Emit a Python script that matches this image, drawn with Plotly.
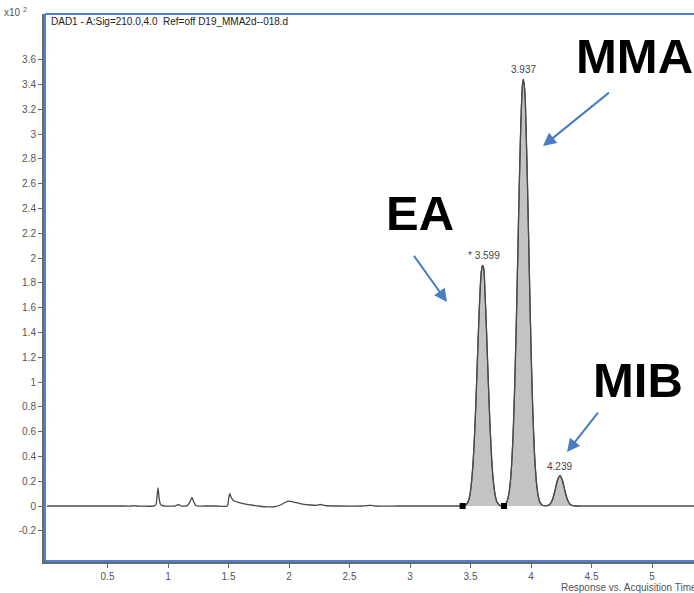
import plotly.graph_objects as go

# Chromatogram trace (time in min, response in x10^2)
time_min = [
    0.00, 0.30, 0.60, 0.70, 0.72, 0.74, 0.88, 0.90, 0.91, 0.917, 0.925, 0.935, 0.95, 0.97,
    1.06, 1.085, 1.11, 1.16, 1.18, 1.198, 1.21, 1.225, 1.24, 1.30, 1.40, 1.49, 1.50, 1.51,
    1.52, 1.54, 1.58, 1.64, 1.70, 1.76, 1.82, 1.88, 1.93, 1.97, 2.00, 2.04, 2.10, 2.18,
    2.23, 2.26, 2.30, 2.40, 2.60, 2.66, 2.68, 2.71, 2.90, 3.20, 3.40,
    3.44, 3.46, 3.48, 3.49, 3.50, 3.51, 3.52, 3.53, 3.54, 3.55, 3.56, 3.57, 3.58, 3.59,
    3.599, 3.61, 3.62, 3.63, 3.64, 3.65, 3.66, 3.67, 3.68, 3.69, 3.70, 3.71, 3.72, 3.74,
    3.76, 3.78, 3.79, 3.80, 3.81, 3.82, 3.83, 3.84, 3.85, 3.86, 3.87, 3.88, 3.89, 3.90,
    3.91, 3.92, 3.93, 3.937, 3.95, 3.96, 3.97, 3.98, 3.99, 4.00, 4.01, 4.02, 4.03, 4.04,
    4.05, 4.06, 4.07, 4.08, 4.09, 4.10, 4.12, 4.14, 4.16, 4.18, 4.20, 4.22, 4.239, 4.26,
    4.28, 4.30, 4.32, 4.34, 4.36, 4.40, 4.60, 5.00, 5.35,
]
response = [
    0.000, 0.000, 0.000, 0.000, 0.003, 0.000, 0.000, 0.010, 0.080, 0.145, 0.080, 0.020, 0.005, 0.000,
    0.000, 0.012, 0.000, 0.003, 0.030, 0.070, 0.040, 0.010, 0.000, 0.000, 0.000, 0.000, 0.050, 0.100,
    0.075, 0.045, 0.030, 0.016, 0.006, -0.002, -0.007, -0.006, 0.008, 0.030, 0.040, 0.032, 0.018, 0.008,
    0.006, 0.012, 0.004, 0.000, 0.000, 0.004, 0.005, 0.000, 0.000, 0.000, 0.000,
    0.001, 0.008, 0.035, 0.066, 0.120, 0.210, 0.330, 0.500, 0.720, 0.980, 1.260, 1.530, 1.750, 1.896,
    1.940, 1.910, 1.720, 1.480, 1.200, 0.930, 0.680, 0.470, 0.300, 0.190, 0.110, 0.060, 0.030, 0.007,
    0.001, 0.006, 0.015, 0.034, 0.064, 0.117, 0.203, 0.337, 0.531, 0.796, 1.140, 1.540, 1.990, 2.450,
    2.870, 3.200, 3.400, 3.440, 3.330, 3.020, 2.630, 2.180, 1.720, 1.290, 0.920, 0.630, 0.400, 0.250,
    0.145, 0.080, 0.040, 0.020, 0.010, 0.004, 0.002, 0.0045, 0.019, 0.059, 0.132, 0.211, 0.245, 0.205,
    0.123, 0.054, 0.017, 0.004, 0.001, 0.000, 0.000, 0.000, 0.000,
]

# Integrated (shaded) region and baseline markers
fill_start = 3.435
fill_end = 4.40
baseline_marker_t = [3.435, 3.777]
baseline_marker_y = [0.0, 0.0]

# Peak labels
peak_rt = [3.599, 3.937, 4.239]
peak_height = [1.94, 3.44, 0.245]
peak_text = ["* 3.599", "3.937", "4.239"]

# Axis ticks
x_tick_vals = [0.5, 1, 1.5, 2, 2.5, 3, 3.5, 4, 4.5, 5]
x_tick_text = ["0.5", "1", "1.5", "2", "2.5", "3", "3.5", "4", "4.5", "5"]
y_tick_vals = [-0.2, 0, 0.2, 0.4, 0.6, 0.8, 1, 1.2, 1.4, 1.6, 1.8, 2, 2.2, 2.4, 2.6,
               2.8, 3, 3.2, 3.4, 3.6]
y_tick_text = ["-0.2", "0", "0.2", "0.4", "0.6", "0.8", "1", "1.2", "1.4", "1.6", "1.8",
               "2", "2.2", "2.4", "2.6", "2.8", "3", "3.2", "3.4", "3.6"]

# Compound labels
compound_names = ["MMA", "EA", "MIB"]

W, H = 694, 593
L, R, T, B = 45, 0, 14, 32
PW, PH = W - L - R, H - T - B


def px(x):
    return (x - L) / PW


def py(y):
    return (H - B - y) / PH


fill_t = [t for t in time_min if fill_start <= t <= fill_end]
fill_y = [v for t, v in zip(time_min, response) if fill_start <= t <= fill_end]

line_color = "#4a4a4a"
fig = go.Figure()
fig.add_trace(go.Scatter(x=fill_t, y=fill_y, mode="lines", fill="tozeroy",
                         fillcolor="#c3c3c3", line=dict(color=line_color, width=1.2, shape="spline", smoothing=0.6),
                         hoverinfo="skip"))
fig.add_trace(go.Scatter(x=time_min, y=response, mode="lines",
                         line=dict(color=line_color, width=1.3, shape="spline", smoothing=0.6)))
fig.add_trace(go.Scatter(x=baseline_marker_t, y=baseline_marker_y, mode="markers",
                         marker=dict(symbol="square", size=6, color="black")))

blue = "#4f81d6"
tick_font = dict(family="Liberation Sans, Arial, sans-serif", size=10, color="#555555")

annotations = []
for rt, h, txt in zip(peak_rt, peak_height, peak_text):
    annotations.append(dict(x=rt, y=h, xref="x", yref="y", text=txt, showarrow=False,
                            yanchor="bottom", yshift=2, xshift=2 if txt.startswith("*") else 0,
                            font=dict(family="Liberation Sans, Arial, sans-serif", size=10, color="#444444")))

big_font = dict(family="Liberation Sans, Arial, sans-serif", size=49, color="black")
big_pos = [(634, 56), (420, 213), (638, 380)]
for name, (bx, by) in zip(compound_names, big_pos):
    annotations.append(dict(x=px(bx), y=py(by), xref="paper", yref="paper", text="<b>%s</b>" % name,
                            showarrow=False, xanchor="center", yanchor="middle", font=big_font))

arrows = [((543, 146), (611, 91)), ((447, 302), (412, 253)), ((567, 452), (600, 410))]
for (hx, hy), (tx, ty) in arrows:
    annotations.append(dict(x=px(hx), y=py(hy), xref="paper", yref="paper", text=" ",
                            showarrow=True, ax=tx - hx, ay=ty - hy, arrowhead=2, arrowsize=1.3,
                            arrowwidth=2, arrowcolor="#4a7cc4", standoff=0,
                            font=dict(size=2)))

annotations.append(dict(x=px(49), y=py(22), xref="paper", yref="paper",
                        text="DAD1 - A:Sig=210.0,4.0  Ref=off D19_MMA2d--018.d", showarrow=False,
                        xanchor="left", yanchor="middle",
                        font=dict(family="Liberation Sans, Arial, sans-serif", size=10, color="#222222")))
annotations.append(dict(x=px(2), y=py(12), xref="paper", yref="paper", text="x10 <sup>2</sup>",
                        showarrow=False, xanchor="left", yanchor="middle", font=tick_font))
annotations.append(dict(x=px(559), y=py(587), xref="paper", yref="paper",
                        text="Response vs. Acquisition Time (min)", showarrow=False,
                        xanchor="left", yanchor="middle", font=tick_font))

shapes = [
    dict(type="line", xref="paper", yref="paper", x0=0, x1=0, y0=0, y1=1, line=dict(color=blue, width=2)),
    dict(type="line", xref="paper", yref="paper", x0=0, x1=1, y0=1, y1=1, line=dict(color=blue, width=2)),
    dict(type="line", xref="paper", yref="paper", x0=0, x1=1, y0=0, y1=0, line=dict(color=blue, width=2)),
]

x0_px = 47.0
x_scale = 121.0
y0_px = 506.0
y_scale = 124.0
x_range = [(L - x0_px) / x_scale, (W - R - x0_px) / x_scale]
y_range = [(y0_px - (H - B)) / y_scale, (y0_px - T) / y_scale]

fig.update_layout(
    width=W, height=H, margin=dict(l=L, r=R, t=T, b=B),
    plot_bgcolor="white", paper_bgcolor="white", showlegend=False,
    xaxis=dict(range=x_range, tickvals=x_tick_vals, ticktext=x_tick_text, showgrid=False,
               zeroline=False, showline=True, linecolor="#6a6a6a", linewidth=3,
               ticks="outside", ticklen=4, tickcolor="#666666", tickfont=tick_font),
    yaxis=dict(range=y_range, tickvals=y_tick_vals, ticktext=y_tick_text, showgrid=False,
               zeroline=False, showline=True, linecolor="#6a6a6a", linewidth=3,
               ticks="outside", ticklen=4, tickcolor="#666666", tickfont=tick_font),
    annotations=annotations, shapes=shapes,
)

fig.write_html("out.html", config={"displayModeBar": False},
               post_script="document.body.style.margin='0';")
